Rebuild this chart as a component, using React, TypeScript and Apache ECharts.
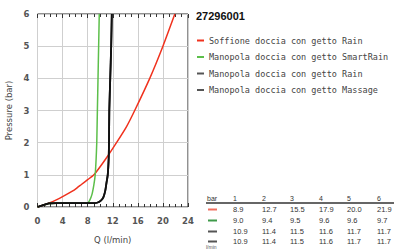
import React, { useEffect, useRef } from "react";
import * as echarts from "echarts";

const title = "27296001";
const seriesNames = [
  "Soffione doccia con getto Rain",
  "Manopola doccia con getto SmartRain",
  "Manopola doccia con getto Rain",
  "Manopola doccia con getto Massage",
];
const seriesColors = ["#f0321e", "#5cbf4a", "#111111", "#111111"];
const swatchColors = ["#f07060", "#3f9a4a", "#555555", "#555555"];

const redCurve: [number, number][] = [
  [0, 0], [1, 0.06], [2, 0.13], [3, 0.22], [4, 0.32], [5, 0.43], [6, 0.55], [7, 0.7],
  [8, 0.85], [9, 1.0], [10.9, 1.5], [12.6, 2], [14.2, 2.5], [15.5, 3], [17.9, 4], [20, 5], [21.9, 6],
];
const greenCurve: [number, number][] = [
  [0, 0], [0.8, 0.05], [1.8, 0.11], [3, 0.12], [7.9, 0.12], [8.3, 0.2], [8.7, 0.4], [9.0, 0.7],
  [9.2, 1.0], [9.35, 1.5], [9.45, 2], [9.55, 3], [9.65, 4], [9.75, 5], [9.85, 6],
];
const blackRainCurve: [number, number][] = [
  [0, 0], [0.8, 0.05], [1.8, 0.11], [3, 0.12], [9, 0.12], [9.6, 0.14], [10.1, 0.2], [10.5, 0.3],
  [10.8, 0.5], [11.0, 0.75], [11.2, 1.0], [11.35, 1.5], [11.4, 2], [11.45, 3], [11.6, 4], [11.75, 5], [11.85, 6],
];
const blackMassageCurve: [number, number][] = [
  [0, 0], [0.8, 0.05], [1.8, 0.11], [3, 0.12], [9, 0.12], [9.6, 0.14], [10.1, 0.2], [10.5, 0.3],
  [10.8, 0.5], [11.0, 0.75], [11.2, 1.0], [11.35, 1.5], [11.4, 2], [11.45, 3], [11.6, 4], [11.75, 5], [11.85, 6],
];

const tableHeader = ["1", "2", "3", "4", "5", "6"];
const tableRows = [
  ["8.9", "12.7", "15.5", "17.9", "20.0", "21.9"],
  ["9.0", "9.4", "9.5", "9.6", "9.6", "9.7"],
  ["10.9", "11.4", "11.5", "11.6", "11.7", "11.7"],
  ["10.9", "11.4", "11.5", "11.6", "11.7", "11.7"],
];

export default function App() {
  const ref = useRef<HTMLDivElement>(null);
  useEffect(() => {
    if (!ref.current) return;
    const chart = echarts.init(ref.current, null, { renderer: "svg" });
    const colX = [233, 262, 290, 319, 347, 377];
    const rowY = [209.5, 220.5, 231.5, 241.5];
    const graphics: any[] = [];
    graphics.push({
      type: "text", left: 196, top: 10,
      style: { text: title, font: "bold 11px 'Liberation Sans', Arial", fill: "#111" },
    });
    graphics.push({
      type: "text", x: 207, y: 198.5,
      style: { text: "bar", font: "7px 'Liberation Sans', Arial", fill: "#333", textVerticalAlign: "middle" },
    });
    tableHeader.forEach((h, i) => {
      graphics.push({
        type: "text", x: colX[i], y: 198.5,
        style: { text: h, font: "7px 'Liberation Sans', Arial", fill: "#333", textVerticalAlign: "middle" },
      });
    });
    graphics.push({
      type: "line", shape: { x1: 206, y1: 203, x2: 394, y2: 203 },
      style: { stroke: "#666", lineWidth: 2 },
    });
    tableRows.forEach((row, r) => {
      graphics.push({
        type: "line", shape: { x1: 208, y1: rowY[r], x2: 217, y2: rowY[r] },
        style: { stroke: swatchColors[r], lineWidth: 2 },
      });
      row.forEach((v, i) => {
        graphics.push({
          type: "text", x: colX[i], y: rowY[r],
          style: { text: v, font: "7.5px 'Liberation Sans', Arial", fill: "#333", textVerticalAlign: "middle" },
        });
      });
    });
    graphics.push({
      type: "text", x: 206, y: 247,
      style: { text: "l/min", font: "5px 'Liberation Sans', Arial", fill: "#555", textVerticalAlign: "middle" },
    });

    const curves = [redCurve, greenCurve, blackRainCurve, blackMassageCurve];
    chart.setOption({
      animation: false,
      grid: { left: 37.5, top: 14, width: 150.5, height: 196, show: true, borderColor: "#222", borderWidth: 1, backgroundColor: "transparent" },
      legend: {
        orient: "vertical", left: 192, top: 31, itemWidth: 7, itemHeight: 2, itemGap: 7.5,
        icon: "rect",
        data: seriesNames,
        textStyle: { fontFamily: "'DejaVu Sans Mono', monospace", fontSize: 8.5, color: "#444" },
      },
      xAxis: [
        {
          type: "value", min: 0, max: 24, interval: 4,
          name: "Q (l/min)", nameLocation: "middle", nameGap: 28,
          nameTextStyle: { fontSize: 8.5, color: "#444", fontFamily: "'DejaVu Sans', sans-serif" },
          axisLine: { show: false },
          axisTick: { show: true, inside: true, length: 4, lineStyle: { color: "#333" } },
          minorTick: { show: true, splitNumber: 4, length: 3, lineStyle: { color: "#333" } },
          axisLabel: { fontSize: 8.5, color: "#555", fontWeight: "bold", margin: 9, fontFamily: "'DejaVu Sans', sans-serif" },
          splitLine: { show: true, lineStyle: { color: "#cfcfcf" } },
        },
        {
          type: "value", min: 0, max: 24, interval: 4, position: "top",
          axisLine: { show: false },
          axisTick: { show: true, inside: true, length: 4, lineStyle: { color: "#333" } },
          minorTick: { show: true, splitNumber: 4, length: 3, lineStyle: { color: "#333" } },
          axisLabel: { show: false },
          splitLine: { show: false },
        },
      ],
      yAxis: {
        type: "value", min: 0, max: 6, interval: 1,
        name: "Pressure (bar)", nameLocation: "middle", nameGap: 24,
        nameTextStyle: { fontSize: 8.5, color: "#444", fontFamily: "'DejaVu Sans', sans-serif" },
        axisLine: { show: false },
        axisTick: { show: false },
        axisLabel: { fontSize: 8.5, color: "#555", fontWeight: "bold", margin: 8, fontFamily: "'DejaVu Sans', sans-serif" },
        splitLine: { show: true, lineStyle: { color: "#cfcfcf" } },
      },
      series: curves.map((c, i) => ({
        name: seriesNames[i],
        type: "line",
        data: c,
        xAxisIndex: 0,
        smooth: 0.2,
        showSymbol: false,
        symbol: "none",
        color: i >= 2 ? "#555" : seriesColors[i],
        lineStyle: { color: seriesColors[i], width: i === 0 ? 1.5 : i === 1 ? 1.5 : 1.8 },
        z: i === 0 ? 2 : i === 1 ? 3 : 4,
      })),
      graphic: graphics,
    });
    return () => chart.dispose();
  }, []);
  return <div ref={ref} style={{ position: "fixed", left: 0, top: 0, width: 394, height: 249, background: "#fff" }} />;
}
